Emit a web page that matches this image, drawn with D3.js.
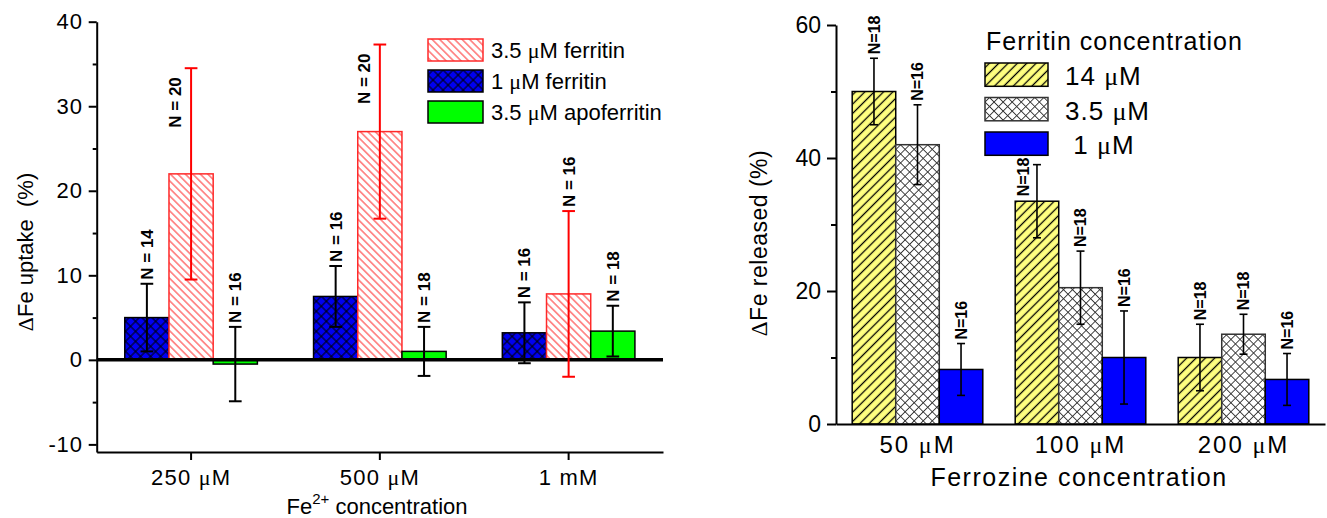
<!DOCTYPE html>
<html>
<head>
<meta charset="utf-8">
<script src="https://cdn.jsdelivr.net/npm/d3@7"></script>
<style>
body { margin: 0; background: #fff; }
svg { display: block; }
</style>
</head>
<body>
<script>
var width = 1327;
var height = 518;

// ---- left panel data: Fe uptake ----
var uptakeCategories = ["250 μM", "500 μM", "1 mM"];
var uptakeKeys = ["1 μM ferritin", "3.5 μM ferritin", "3.5 μM apoferritin"];
var uptakeLegend = ["3.5 μM ferritin", "1 μM ferritin", "3.5 μM apoferritin"];
var uptakeTicks = [-10, 0, 10, 20, 30, 40];

var ferritin1Mean = [5.0, 7.5, 3.2];
var ferritin1Sd = [4.0, 3.6, 3.6];
var ferritin1N = [14, 16, 16];

var ferritin35Mean = [22.0, 27.0, 7.8];
var ferritin35Sd = [12.5, 10.3, 9.8];
var ferritin35N = [20, 20, 16];

var apoMean = [-0.5, 1.0, 3.4];
var apoSd = [4.4, 2.9, 3.0];
var apoN = [16, 18, 18];

// ---- right panel data: Fe released ----
var releaseCategories = ["50 μM", "100 μM", "200 μM"];
var releaseKeys = ["14 μM", "3.5 μM", "1 μM"];
var releaseTicks = [0, 20, 40, 60];

var rel14Mean = [50.0, 33.5, 10.0];
var rel14Sd = [5.0, 5.5, 5.0];
var rel14N = [18, 18, 18];

var rel35Mean = [42.0, 20.5, 13.5];
var rel35Sd = [6.0, 5.5, 3.0];
var rel35N = [16, 18, 18];

var rel1Mean = [8.2, 10.0, 6.7];
var rel1Sd = [3.9, 7.0, 3.9];
var rel1N = [16, 16, 16];

var font = "'Liberation Sans', Arial, Helvetica, sans-serif";
var greek = "'Liberation Serif', 'Times New Roman', serif";

var svg = d3.select("body").append("svg")
    .attr("width", width)
    .attr("height", height)
    .style("font-family", font);

//// patterns ////
var defs = svg.append("defs");
function hatch(id, bg, stroke, sw, gap, angle, cross) {
  var p = defs.append("pattern")
      .attr("id", id)
      .attr("patternUnits", "userSpaceOnUse")
      .attr("width", gap)
      .attr("height", gap)
      .attr("patternTransform", "rotate(" + angle + ")");
  p.append("rect").attr("width", gap).attr("height", gap).attr("fill", bg);
  p.append("line")
      .attr("x1", gap / 2).attr("y1", 0).attr("x2", gap / 2).attr("y2", gap)
      .attr("stroke", stroke).attr("stroke-width", sw);
  if (cross) {
    p.append("line")
        .attr("x1", 0).attr("y1", gap / 2).attr("x2", gap).attr("y2", gap / 2)
        .attr("stroke", stroke).attr("stroke-width", sw);
  }
}
hatch("redHatch", "#fff", "#ff2a2a", 1, 5.3, -45, false);
hatch("blueCross", "#0000f0", "#000", 1, 7.1, 45, true);
hatch("yellowHatch", "#ffff80", "#000", 1.3, 6.6, 45, false);
hatch("greyCross", "#fff", "#333", 0.9, 6.4, 45, true);

// text with greek glyphs in a serif face
function richText(sel, str) {
  sel.text(null);
  str.split(/([μΔ])/).forEach(function(part) {
    if (!part) return;
    var t = sel.append("tspan").text(part);
    if (part === "μ" || part === "Δ") t.attr("font-family", greek);
  });
}

function buildSeries(keys, means, sds, ns, fills, strokes, errColors) {
  return keys.map(function(k, j) {
    return {key: k, mean: means[j], sd: sds[j], n: ns[j],
            fill: fills[j], stroke: strokes[j], err: errColors[j]};
  });
}

// draws one grouped bar panel with error bars and N labels
function drawBars(g, series, cats, x, sub, y, opt) {
  series.forEach(function(s) {
    var rows = cats.map(function(c, i) {
      return {cat: c, mean: s.mean[i], sd: s.sd[i], n: s.n[i]};
    });
    var cx = function(d) { return x(d.cat) + x.bandwidth() / 2 + sub(s.key) + sub.bandwidth() / 2; };

    g.append("g").selectAll("rect").data(rows).enter().append("rect")
        .attr("x", function(d) { return x(d.cat) + x.bandwidth() / 2 + sub(s.key); })
        .attr("width", sub.bandwidth())
        .attr("y", function(d) { return Math.min(y(d.mean), y(0)); })
        .attr("height", function(d) { return Math.abs(y(d.mean) - y(0)); })
        .attr("fill", s.fill)
        .attr("stroke", s.stroke)
        .attr("stroke-width", 1.5);

    s.rows = rows;
    s.cx = cx;
  });

  if (opt.zeroLine) {
    g.append("line")
        .attr("x1", opt.x0).attr("x2", opt.x1)
        .attr("y1", y(0)).attr("y2", y(0))
        .attr("stroke", "#000").attr("stroke-width", 3.5);
  }

  series.forEach(function(s) {
    var eg = g.append("g").attr("stroke", s.err).attr("stroke-width", opt.errWidth);
    var e = eg.selectAll("g").data(s.rows).enter().append("g");
    e.append("line")
        .attr("x1", s.cx).attr("x2", s.cx)
        .attr("y1", function(d) { return y(d.mean - d.sd); })
        .attr("y2", function(d) { return y(d.mean + d.sd); });
    [1, -1].forEach(function(sign) {
      e.append("line")
          .attr("x1", function(d) { return s.cx(d) - opt.cap / 2; })
          .attr("x2", function(d) { return s.cx(d) + opt.cap / 2; })
          .attr("y1", function(d) { return y(d.mean + sign * d.sd); })
          .attr("y2", function(d) { return y(d.mean + sign * d.sd); });
    });

    g.append("g").selectAll("text").data(s.rows).enter().append("text")
        .attr("font-size", opt.nSize)
        .attr("font-weight", "bold")
        .attr("dy", "0.35em")
        .text(function(d) { return opt.nSep ? "N = " + d.n : "N=" + d.n; })
        .each(function(d) {
          var t = d3.select(this);
          var len = this.getComputedTextLength();
          var capY = y(d.mean + d.sd);
          var px = s.cx(d), py = capY - 4, anchor = "start";
          var top = py - len;
          if (opt.needsSide(px, top, py)) {
            px = s.cx(d) + opt.side[0];
            py = capY + opt.side[1];
            anchor = "end";
          }
          t.attr("text-anchor", anchor)
           .attr("transform", "translate(" + px + "," + py + ") rotate(-90)");
        });
  });
}

///////////////////////////////////////
////////// LEFT PANEL /////////////////
///////////////////////////////////////
var L = {x0: 96.7, x1: 663, yTop: 21.7, yBot: 452};
var xL = d3.scaleBand().domain(uptakeCategories).range([L.x0, L.x1]);
var subL = d3.scaleBand().domain(uptakeKeys).range([-66.3, 66.3]);
var yL = d3.scaleLinear().domain([-10.9, 40]).range([L.yBot, L.yTop]);

var left = svg.append("g");

var uptakeSeries = buildSeries(uptakeKeys,
    [ferritin1Mean, ferritin35Mean, apoMean],
    [ferritin1Sd, ferritin35Sd, apoSd],
    [ferritin1N, ferritin35N, apoN],
    ["url(#blueCross)", "url(#redHatch)", "#00ff00"],
    ["#000", "#ff2a2a", "#000"],
    ["#000", "#ff0000", "#000"]);

drawBars(left, uptakeSeries, uptakeCategories, xL, subL, yL, {
  zeroLine: true, x0: L.x0, x1: L.x1,
  errWidth: 2, cap: 12.7, nSize: 17, nSep: true,
  side: [-16, 9],
  needsSide: function(px, top) { return top < L.yTop; }
});

// y axis
var yAxisL = left.append("g")
    .attr("transform", "translate(" + L.x0 + ",0)")
    .call(d3.axisLeft(yL).tickValues(uptakeTicks).tickSize(8).tickSizeOuter(0).tickPadding(6)
      .tickFormat(function(d) { return String(d); }));
left.append("g")
    .attr("transform", "translate(" + L.x0 + ",0)")
    .call(d3.axisLeft(yL).tickValues([-5, 5, 15, 25, 35]).tickSize(4).tickFormat(""))
    .select(".domain").remove();
yAxisL.selectAll("text").attr("font-size", 22).attr("font-family", font).attr("fill", "#000")
    .attr("letter-spacing", 0.8);

// x axis
var xAxisL = left.append("g")
    .attr("transform", "translate(0," + L.yBot + ")")
    .call(d3.axisBottom(xL).tickSize(8).tickSizeOuter(0));
xAxisL.selectAll("text")
    .attr("y", 33).attr("dy", 0)
    .attr("font-size", 22).attr("font-family", font).attr("fill", "#000")
    .attr("letter-spacing", 1.2)
    .each(function(d) { richText(d3.select(this), d); });

left.selectAll(".domain, .tick line").attr("stroke", "#000").attr("stroke-width", 2);

// axis titles
var ytL = left.append("text")
    .attr("transform", "translate(33,252) rotate(-90)")
    .attr("text-anchor", "middle")
    .attr("font-size", 22)
    .style("white-space", "pre");
richText(ytL, "ΔFe uptake  (%)");

var xtL = left.append("text")
    .attr("x", 377).attr("y", 514)
    .attr("text-anchor", "middle")
    .attr("font-size", 22);
xtL.append("tspan").text("Fe");
xtL.append("tspan").attr("font-size", 15).attr("dy", -10).text("2+");
xtL.append("tspan").attr("dy", 10).text(" concentration");

// legend
var legL = left.append("g").attr("transform", "translate(428,39)");
var legRowsL = legL.selectAll("g").data(uptakeLegend).enter().append("g")
    .attr("transform", function(d, i) { return "translate(0," + i * 31 + ")"; });
legRowsL.append("rect")
    .attr("width", 55).attr("height", 22)
    .attr("fill", function(d) { return uptakeSeries.find(function(s) { return s.key === d; }).fill; })
    .attr("stroke", function(d) { return uptakeSeries.find(function(s) { return s.key === d; }).stroke; })
    .attr("stroke-width", 1.5);
legRowsL.append("text")
    .attr("x", 63).attr("y", 19)
    .attr("font-size", 22)
    .each(function(d) { richText(d3.select(this), d); });

///////////////////////////////////////
////////// RIGHT PANEL ////////////////
///////////////////////////////////////
var R = {x0: 836, x1: 1325, yTop: 25, yBot: 424};
var xR = d3.scaleBand().domain(releaseCategories).range([R.x0, R.x1]);
var subR = d3.scaleBand().domain(releaseKeys).range([-65.3, 65.3]);
var yR = d3.scaleLinear().domain([0, 60]).range([R.yBot, R.yTop]);
var legendBoxR = {x0: 985, x1: 1250, y0: 30, y1: 157};

var right = svg.append("g");

var releaseSeries = buildSeries(releaseKeys,
    [rel14Mean, rel35Mean, rel1Mean],
    [rel14Sd, rel35Sd, rel1Sd],
    [rel14N, rel35N, rel1N],
    ["url(#yellowHatch)", "url(#greyCross)", "#0000ff"],
    ["#000", "#333", "#000"],
    ["#000", "#000", "#000"]);

drawBars(right, releaseSeries, releaseCategories, xR, subR, yR, {
  zeroLine: false,
  errWidth: 1.6, cap: 8, nSize: 16, nSep: false,
  side: [-14, -7],
  needsSide: function(px, top, bottom) {
    return px > legendBoxR.x0 && px < legendBoxR.x1 && top < legendBoxR.y1 && bottom > legendBoxR.y0;
  }
});

var yAxisR = right.append("g")
    .attr("transform", "translate(" + R.x0 + ",0)")
    .call(d3.axisLeft(yR).tickValues(releaseTicks).tickSize(9).tickSizeOuter(0).tickPadding(6));
right.append("g")
    .attr("transform", "translate(" + R.x0 + ",0)")
    .call(d3.axisLeft(yR).tickValues([10, 30, 50]).tickSize(5).tickFormat(""))
    .select(".domain").remove();
yAxisR.selectAll("text").attr("font-size", 23).attr("font-family", font).attr("fill", "#000");

var xAxisR = right.append("g")
    .attr("transform", "translate(0," + R.yBot + ")")
    .call(d3.axisBottom(xR).tickSize(0).tickSizeOuter(0));
xAxisR.selectAll("text")
    .attr("y", 29).attr("dy", 0)
    .attr("font-size", 24).attr("font-family", font).attr("fill", "#000")
    .attr("letter-spacing", 2)
    .each(function(d) { richText(d3.select(this), d); });

right.selectAll(".domain, .tick line").attr("stroke", "#000").attr("stroke-width", 2);

var ytR = right.append("text")
    .attr("transform", "translate(767,243) rotate(-90)")
    .attr("text-anchor", "middle")
    .attr("font-size", 23)
    .attr("letter-spacing", 0.5);
richText(ytR, "ΔFe released (%)");

right.append("text")
    .attr("x", 1079).attr("y", 486)
    .attr("text-anchor", "middle")
    .attr("font-size", 25)
    .attr("letter-spacing", 1.5)
    .text("Ferrozine concentration");

// legend
right.append("text")
    .attr("x", 986).attr("y", 50)
    .attr("font-size", 25)
    .attr("letter-spacing", 1)
    .text("Ferritin concentration");

var legR = right.append("g").attr("transform", "translate(985,63)");
var legRowsR = legR.selectAll("g").data(releaseSeries).enter().append("g")
    .attr("transform", function(d, i) { return "translate(0," + i * 34.5 + ")"; });
legRowsR.append("rect")
    .attr("width", 63).attr("height", 23.3)
    .attr("fill", function(d) { return d.fill; })
    .attr("stroke", function(d) { return d.stroke; })
    .attr("stroke-width", 1.5);
legRowsR.append("text")
    .attr("x", 80).attr("y", 22)
    .attr("font-size", 26)
    .attr("letter-spacing", 1)
    .style("white-space", "pre")
    .each(function(d) { richText(d3.select(this), d.key === "1 μM" ? " " + d.key : d.key); });
</script>
</body>
</html>
